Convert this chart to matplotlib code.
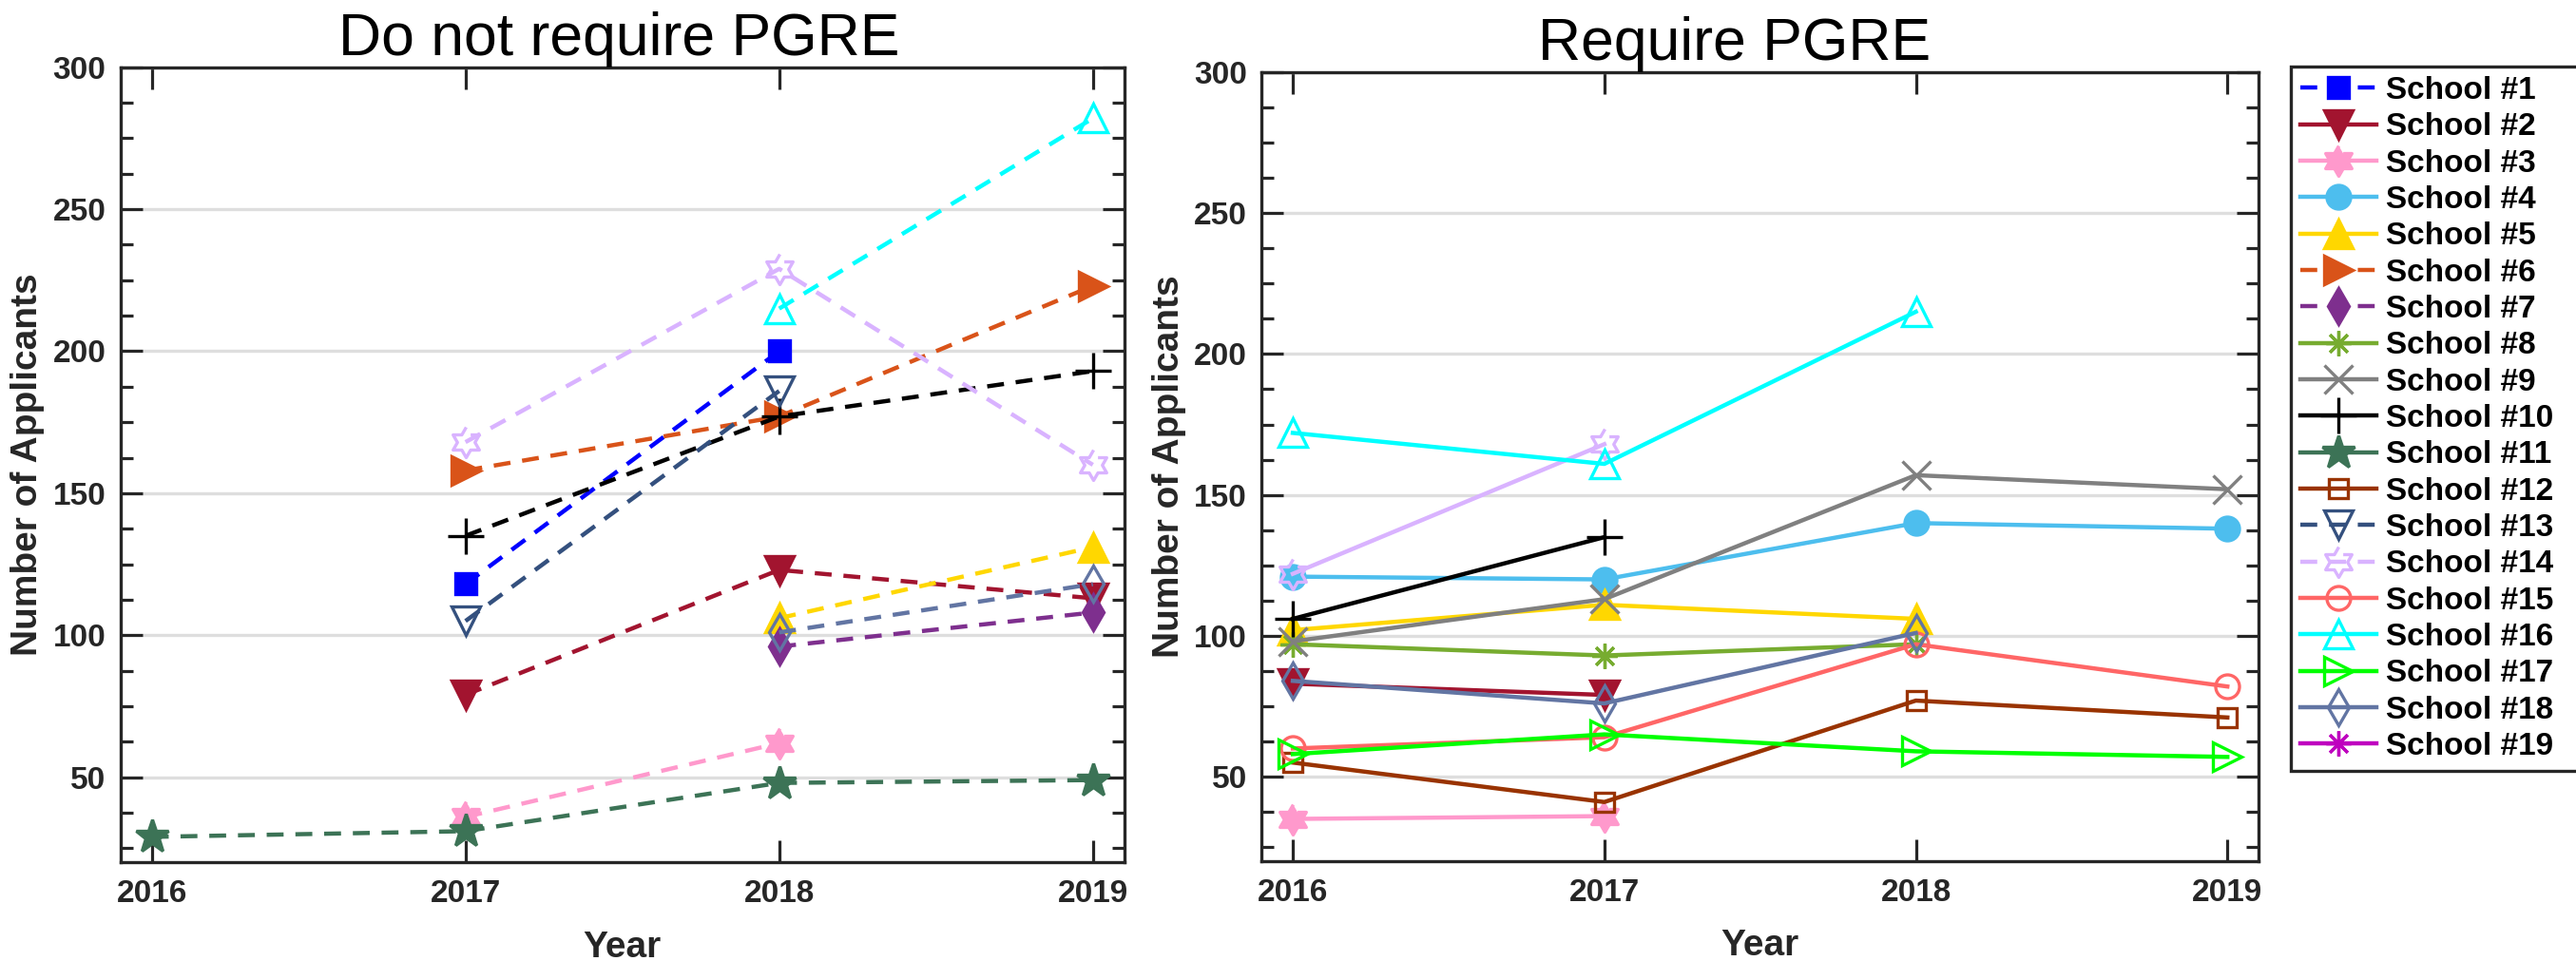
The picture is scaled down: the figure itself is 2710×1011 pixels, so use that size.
import numpy as np
import matplotlib
matplotlib.use("Agg")
import matplotlib.pyplot as plt
from matplotlib.lines import Line2D
from matplotlib.ticker import MultipleLocator

plt.rcParams["font.family"] = ["Liberation Sans", "DejaVu Sans"]

nan = np.nan

YEARS = [2016, 2017, 2018, 2019]
SCHOOLS = [f"School #{i}" for i in range(1, 20)]

# applicants per year, programs that do not require the PGRE
nr_01 = [nan, 118, 200, nan]
nr_02 = [nan, 79, 123, 113]
nr_03 = [nan, 36, 62, nan]
nr_05 = [nan, nan, 106, 131]
nr_06 = [nan, 158, 177, 223]
nr_07 = [nan, nan, 96, 108]
nr_10 = [nan, 135, 177, 193]
nr_11 = [29, 31, 48, 49]
nr_13 = [nan, 105, 186, nan]
nr_14 = [nan, 168, 229, 160]
nr_16 = [nan, nan, 215, 282]
nr_18 = [nan, nan, 101, 118]

# applicants per year, programs that require the PGRE
rq_02 = [83, 79, nan, nan]
rq_03 = [35, 36, nan, nan]
rq_04 = [121, 120, 140, 138]
rq_05 = [102, 111, 106, nan]
rq_08 = [97, 93, 97, nan]
rq_09 = [98, 113, 157, 152]
rq_10 = [106, 135, nan, nan]
rq_12 = [55, 41, 77, 71]
rq_14 = [122, 168, nan, nan]
rq_15 = [60, 64, 97, 82]
rq_16 = [172, 161, 215, nan]
rq_17 = [58, 65, 59, 57]
rq_18 = [84, 76, 101, nan]

NO_REQ = {1: nr_01, 2: nr_02, 3: nr_03, 5: nr_05, 6: nr_06, 7: nr_07,
          10: nr_10, 11: nr_11, 13: nr_13, 14: nr_14, 16: nr_16, 18: nr_18}
REQ = {2: rq_02, 3: rq_03, 4: rq_04, 5: rq_05, 8: rq_08, 9: rq_09,
       10: rq_10, 12: rq_12, 14: rq_14, 15: rq_15, 16: rq_16, 17: rq_17,
       18: rq_18}

# six-pointed star outline and an eight-spoke asterisk
_ang = np.deg2rad(90 + 30 * np.arange(12))
_rad = np.where(np.arange(12) % 2 == 0, 1.0, 1 / np.sqrt(3))
HEXAGRAM = list(zip(_rad * np.cos(_ang), _rad * np.sin(_ang)))
ASTERISK = (8, 2, 0)

COLORS = ["#0000FF", "#A2142F", "#FF99CC", "#4DBEEE", "#FFD700", "#D95319",
          "#7E2F8E", "#77AC30", "#808080", "#000000", "#3C7356", "#993300",
          "#34507E", "#D9B3FF", "#FF6666", "#00FFFF", "#00FF00", "#6275A3",
          "#BF00BF"]
MARKERS = ["s", "v", HEXAGRAM, "o", "^", ">", "d", ASTERISK, "x", "+", "*",
           "s", "v", HEXAGRAM, "o", "^", ">", "d", ASTERISK]
MSIZES = [16.5, 22, 23, 18, 22, 22, 19, 19, 21, 27, 26,
          15, 22, 23, 18, 22, 22, 19, 19]
FILLED = [True, True, True, True, True, True, True, True, True, True, True,
          False, False, False, False, False, False, False, True]
LEGEND_DASHED = [1, 6, 7, 13, 14]

DASH = (0, (4, 2.8))
INK = "#262626"


def style(n, ls):
    i = n - 1
    return dict(color=COLORS[i], marker=MARKERS[i], markersize=MSIZES[i],
                markerfacecolor=COLORS[i] if FILLED[i] else "none",
                markeredgewidth=2.4, linewidth=3.2, linestyle=ls)


def setup_axes(ax, title, title_x):
    ax.set_xlim(2015.9, 2019.1)
    ax.set_ylim(20, 300)
    ax.set_xticks(YEARS)
    ax.set_yticks([50, 100, 150, 200, 250, 300])
    ax.yaxis.set_minor_locator(MultipleLocator(12.5))
    ax.grid(axis="y", which="major", color="#dedede", linewidth=2.4)
    ax.set_axisbelow(True)
    ax.tick_params(which="major", direction="in", length=16.5, width=2.3,
                   color=INK, labelcolor=INK, labelsize=24, top=True, right=True)
    ax.tick_params(axis="x", which="major", pad=13)
    ax.tick_params(axis="y", which="major", pad=11)
    ax.tick_params(axis="y", which="minor", direction="in", length=9.5,
                   width=2.3, color=INK, left=True, right=True)
    ax.tick_params(axis="x", which="minor", bottom=False, top=False)
    plt.setp(ax.get_xticklabels() + ax.get_yticklabels(), fontweight="bold")
    for sp in ax.spines.values():
        sp.set_linewidth(2.4)
        sp.set_color(INK)
    ax.set_xlabel("Year", fontsize=28, fontweight="bold", color=INK, labelpad=16)
    ax.set_ylabel("Number of Applicants", fontsize=28, fontweight="bold",
                  color=INK, labelpad=6)
    ax.set_title(title, fontsize=45, pad=9, x=title_x)


fig = plt.figure(figsize=(27.1, 10.11), dpi=100)
ax1 = fig.add_axes([0.04675, 0.10257, 0.38967, 0.82750])
ax2 = fig.add_axes([0.48978, 0.10386, 0.38697, 0.82097])

for n, vals in NO_REQ.items():
    ax1.plot(YEARS, vals, **style(n, DASH))
for n, vals in REQ.items():
    ax2.plot(YEARS, vals, **style(n, "-"))

setup_axes(ax1, "Do not require PGRE", 0.497)
setup_axes(ax2, "Require PGRE", 0.474)

# legend runs to the right edge of the figure
handles = [Line2D([], [], **style(n, DASH if n in LEGEND_DASHED else "-"))
           for n in range(1, 20)]
leg = fig.legend(handles, SCHOOLS, loc="upper left", mode="expand",
                 bbox_to_anchor=(2410 / 2710, 1 - 70 / 1011, 302 / 2710, 0),
                 borderaxespad=0, fontsize=24, handlelength=2.4,
                 handletextpad=0.3, labelspacing=0.22, borderpad=0.3,
                 fancybox=False, framealpha=1, edgecolor=INK)
leg.get_frame().set_linewidth(2.4)
for t in leg.get_texts():
    t.set_fontweight("bold")

fig.savefig("out.png", dpi=100)
